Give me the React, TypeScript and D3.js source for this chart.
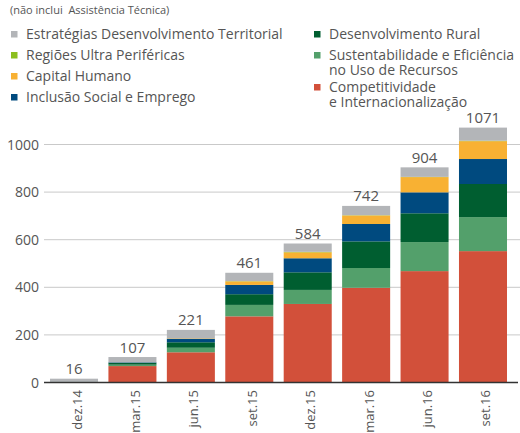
import React, { useRef, useEffect } from 'react';
import * as d3 from 'd3';

const categories = ['dez.14', 'mar.15', 'jun.15', 'set.15', 'dez.15', 'mar.16', 'jun.16', 'set.16'];
const totals = [16, 107, 221, 461, 584, 742, 904, 1071];

// stacked from the bottom up
const competitividade = [0, 69, 127, 278, 330, 398, 468, 552];
const sustentabilidade = [1, 6, 19, 48, 59, 83, 122, 143];
const desenvRural = [2, 8, 23, 45, 74, 112, 121, 139];
const inclusao = [0, 2, 15, 39, 59, 73, 88, 105];
const capitalHumano = [0, 0, 2, 15, 25, 36, 64, 75];
const regioesUP = [0, 0, 0, 1, 2, 1, 1, 2];
const estrategias = [13, 22, 35, 35, 35, 39, 40, 55];

const yTicks = [0, 200, 400, 600, 800, 1000];

const series = [
  { key: 'comp', values: competitividade, color: '#d2503a' },
  { key: 'sust', values: sustentabilidade, color: '#53a06b' },
  { key: 'rural', values: desenvRural, color: '#005e30' },
  { key: 'incl', values: inclusao, color: '#004a7f' },
  { key: 'cap', values: capitalHumano, color: '#f8b133' },
  { key: 'rup', values: regioesUP, color: '#8cbf1f' },
  { key: 'estr', values: estrategias, color: '#b3b5b8' },
];

const legendLeft = [
  { lines: ['Estratégias Desenvolvimento Territorial'], color: '#b3b5b8' },
  { lines: ['Regiões Ultra Periféricas'], color: '#8cbf1f' },
  { lines: ['Capital Humano'], color: '#f8b133' },
  { lines: ['Inclusão Social e Emprego'], color: '#004a7f' },
];
const legendRight = [
  { lines: ['Desenvolvimento Rural'], color: '#005e30' },
  { lines: ['Sustentabilidade e Eficiência', 'no Uso de Recursos'], color: '#53a06b' },
  { lines: ['Competitividade', 'e Internacionalização'], color: '#d2503a' },
];

const FONT = '"Open Sans", sans-serif';
const TEXT = '#555';

export default function App() {
  const svgRef = useRef(null);

  useEffect(() => {
    const svg = d3.select(svgRef.current);
    svg.selectAll('*').remove();
    svg.style('font-family', FONT);

    const x = d3.scaleBand()
      .domain(categories)
      .range([44.8, 512.2])
      .paddingInner(0.178)
      .paddingOuter(0.089);

    const y = d3.scaleLinear().domain([0, 1000]).range([382.5, 144.5]);

    // subtitle
    svg.append('text')
      .attr('x', 10).attr('y', 13.5)
      .style('font-size', '11px').style('fill', TEXT)
      .style('white-space', 'pre')
      .text('(não inclui  Assistência Técnica)');

    // legend
    const drawLegend = (items, x0, rows) => {
      items.forEach((it, i) => {
        const cy = rows[i];
        svg.append('rect')
          .attr('x', x0).attr('y', cy - 3)
          .attr('width', 6.5).attr('height', 6.5)
          .attr('fill', it.color);
        it.lines.forEach((ln, j) => {
          svg.append('text')
            .attr('x', x0 + 15).attr('y', cy + 5 + j * 14.5)
            .style('font-size', '14px').style('fill', TEXT)
            .text(ln);
        });
      });
    };
    drawLegend(legendLeft, 11, [34, 55, 76, 97]);
    drawLegend(legendRight, 314, [34, 55, 87]);

    // grid
    svg.append('g')
      .selectAll('line')
      .data(yTicks.filter(d => d > 0))
      .enter().append('line')
      .attr('x1', 44).attr('x2', 520)
      .attr('y1', d => y(d)).attr('y2', d => y(d))
      .attr('stroke', '#c9c9c9').attr('stroke-width', 1);

    // y labels
    svg.append('g')
      .selectAll('text')
      .data(yTicks)
      .enter().append('text')
      .attr('x', 39).attr('y', d => y(d) + 5)
      .attr('text-anchor', 'end')
      .style('font-size', '14px').style('fill', TEXT)
      .text(d => d);

    // stacked bars
    const rows = categories.map((c, i) => {
      const r = { cat: c };
      series.forEach(s => { r[s.key] = s.values[i]; });
      return r;
    });
    const stack = d3.stack().keys(series.map(s => s.key))(rows);

    svg.append('g')
      .selectAll('g')
      .data(stack)
      .enter().append('g')
      .attr('fill', (d, i) => series[i].color)
      .selectAll('rect')
      .data(d => d)
      .enter().append('rect')
      .attr('x', d => x(d.data.cat))
      .attr('width', x.bandwidth())
      .attr('y', d => y(d[1]))
      .attr('height', d => y(d[0]) - y(d[1]));

    // totals
    svg.append('g')
      .selectAll('text')
      .data(categories)
      .enter().append('text')
      .attr('x', d => x(d) + x.bandwidth() / 2)
      .attr('y', (d, i) => y(totals[i]) - 4.5)
      .attr('text-anchor', 'middle')
      .style('font-size', '15px').style('fill', TEXT)
      .text((d, i) => totals[i]);

    // baseline
    svg.append('line')
      .attr('x1', 44).attr('x2', 518)
      .attr('y1', y(0)).attr('y2', y(0))
      .attr('stroke', '#333').attr('stroke-width', 1.5);

    // x labels
    svg.append('g')
      .selectAll('text')
      .data(categories)
      .enter().append('text')
      .attr('transform', d => `translate(${x(d) + x.bandwidth() / 2 + 7.5},390) rotate(-90)`)
      .attr('text-anchor', 'end')
      .style('font-size', '13px').style('fill', TEXT)
      .text(d => d);
  }, []);

  return (
    <svg
      ref={svgRef}
      width={520}
      height={433}
      style={{ position: 'absolute', left: 0, top: 0, background: '#fff' }}
    />
  );
}
